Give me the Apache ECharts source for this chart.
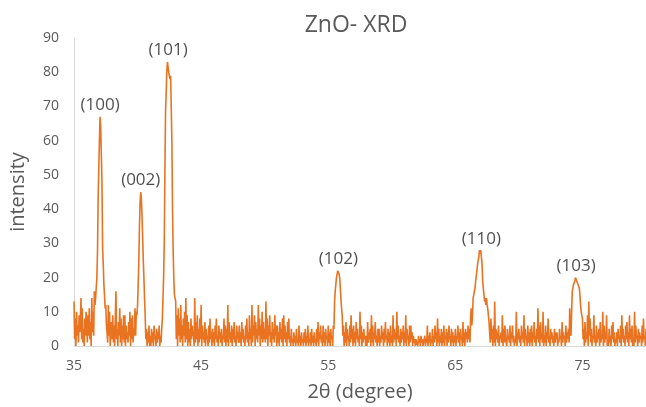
<!DOCTYPE html>
<html>
<head>
<meta charset="utf-8">
<title>ZnO- XRD</title>
<script src="https://cdn.jsdelivr.net/npm/echarts@6/dist/echarts.min.js"></script>
<style>
html, body { margin: 0; padding: 0; background: #fff; }
#xrd-chart { width: 646px; height: 407px; }
</style>
</head>
<body>
<div id="xrd-chart"></div>
<script>
// scan: 35.00 to 80.00 deg, 0.05 deg per step (one row per degree)
var angleStart = 35;
var angleStep = 0.05;
var intensity = [
	13, 2, 8, 0, 10, 3, 6, 1, 9, 4, 7, 14, 2, 11, 1, 5, 0, 8, 3, 10,
	6, 1, 9, 3, 11, 2, 7, 0, 14, 4, 10, 3, 16, 12, 14, 17, 20, 28, 43, 52,
	60, 67, 64, 56, 48, 29, 24, 18, 15, 11, 12, 6, 4, 1, 12, 3, 10, 0, 7, 2,
	3, 9, 1, 6, 0, 8, 16, 2, 5, 0, 7, 3, 11, 1, 8, 0, 6, 2, 9, 1,
	9, 0, 6, 2, 4, 1, 7, 3, 10, 0, 8, 2, 9, 1, 5, 3, 11, 3, 10, 9,
	12, 18, 25, 35, 42, 45, 43, 38, 32, 25, 20, 14, 9, 2, 5, 0, 4, 1, 6, 0,
	3, 0, 5, 1, 4, 0, 6, 2, 3, 0, 5, 1, 4, 2, 6, 0, 3, 1, 5, 8,
	14, 20, 30, 50, 68, 74, 80, 83, 83, 80, 80, 78, 79, 70, 60, 40, 28, 20, 15, 14,
	13, 2, 9, 0, 11, 3, 8, 1, 12, 2, 6, 0, 8, 3, 10, 1, 14, 2, 9, 0,
	7, 1, 5, 0, 8, 2, 6, 3, 4, 0, 14, 1, 7, 2, 9, 0, 5, 1, 8, 2,
	12, 0, 6, 2, 4, 1, 7, 0, 5, 2, 3, 0, 6, 1, 8, 2, 4, 0, 5, 1,
	4, 0, 6, 2, 8, 1, 3, 0, 6, 2, 4, 1, 5, 0, 3, 2, 8, 1, 6, 0,
	5, 1, 12, 0, 7, 2, 4, 1, 6, 0, 5, 2, 7, 1, 3, 0, 6, 2, 4, 1,
	6, 1, 4, 0, 7, 2, 5, 1, 3, 0, 6, 2, 8, 1, 4, 0, 9, 2, 5, 0,
	12, 1, 6, 3, 9, 0, 7, 2, 5, 1, 12, 3, 8, 0, 6, 2, 10, 1, 7, 2,
	5, 1, 13, 2, 8, 0, 6, 3, 9, 1, 4, 0, 7, 2, 5, 1, 9, 3, 6, 0,
	6, 1, 4, 0, 7, 2, 5, 1, 8, 0, 9, 2, 6, 1, 4, 0, 7, 2, 8, 1,
	3, 0, 5, 1, 2, 0, 4, 1, 3, 0, 5, 1, 2, 0, 6, 1, 3, 0, 4, 1,
	2, 0, 4, 1, 5, 0, 3, 1, 6, 0, 2, 1, 4, 0, 5, 1, 3, 0, 4, 1,
	2, 0, 5, 1, 7, 0, 4, 2, 6, 1, 3, 0, 6, 1, 4, 0, 5, 2, 3, 0,
	6, 1, 4, 0, 5, 2, 3, 0, 6, 5, 13, 16, 18, 20, 21, 22, 22, 21, 20, 17,
	14, 11, 9, 3, 6, 0, 4, 1, 7, 0, 5, 2, 3, 0, 6, 1, 9, 2, 5, 0,
	6, 1, 4, 0, 7, 2, 5, 1, 3, 0, 10, 2, 6, 0, 4, 1, 5, 2, 3, 0,
	3, 0, 7, 1, 4, 2, 5, 0, 9, 1, 6, 0, 4, 2, 7, 1, 3, 0, 5, 1,
	5, 0, 3, 1, 6, 2, 4, 0, 5, 1, 7, 2, 3, 0, 5, 1, 4, 0, 6, 1,
	3, 0, 9, 1, 5, 2, 4, 0, 10, 2, 6, 1, 3, 0, 5, 1, 4, 2, 6, 0,
	4, 1, 9, 0, 5, 2, 3, 0, 6, 1, 6, 2, 4, 0, 3, 1, 2, 0, 2, 1,
	1, 0, 3, 1, 2, 0, 3, 1, 2, 0, 1, 2, 3, 0, 2, 1, 6, 0, 3, 1,
	4, 0, 2, 1, 5, 0, 3, 1, 6, 2, 4, 0, 8, 1, 5, 0, 3, 1, 5, 0,
	4, 1, 6, 0, 3, 2, 5, 0, 4, 1, 6, 2, 3, 0, 5, 1, 4, 0, 3, 1,
	5, 0, 3, 2, 6, 1, 4, 0, 5, 2, 3, 0, 7, 1, 4, 0, 5, 2, 4, 1,
	6, 2, 5, 1, 8, 11, 6, 9, 14, 15, 16, 17, 19, 19, 22, 24, 25, 26, 28, 27,
	28, 28, 24, 19, 17, 15, 13, 14, 12, 14, 12, 11, 11, 7, 4, 1, 8, 2, 5, 0,
	6, 1, 13, 0, 5, 2, 4, 1, 6, 0, 3, 2, 4, 1, 9, 0, 5, 1, 6, 2,
	1, 0, 5, 2, 3, 1, 6, 0, 4, 2, 6, 1, 3, 0, 2, 1, 10, 0, 4, 2,
	5, 1, 3, 0, 6, 2, 4, 1, 9, 0, 5, 2, 3, 0, 6, 1, 4, 0, 5, 1,
	6, 0, 4, 2, 7, 1, 3, 0, 5, 2, 11, 1, 6, 0, 7, 2, 4, 1, 10, 0,
	3, 1, 6, 0, 4, 2, 8, 1, 3, 0, 5, 2, 4, 1, 3, 0, 5, 1, 4, 2,
	4, 0, 2, 1, 5, 2, 3, 0, 7, 1, 4, 2, 3, 0, 6, 1, 4, 2, 5, 1,
	11, 4, 3, 10, 16, 17, 18, 18, 19, 20, 20, 19, 19, 19, 19, 17, 15, 12, 10, 9,
	8, 2, 5, 0, 7, 1, 4, 2, 9, 0, 13, 3, 8, 1, 5, 0, 3, 2, 9, 1,
	3, 0, 6, 1, 4, 2, 5, 0, 7, 1, 3, 2, 10, 0, 6, 1, 4, 2, 9, 0,
	2, 0, 5, 1, 3, 0, 6, 2, 7, 1, 4, 0, 2, 1, 4, 0, 5, 2, 3, 1,
	6, 0, 9, 2, 5, 1, 3, 0, 6, 2, 7, 1, 4, 0, 9, 2, 5, 1, 6, 0,
	2, 0, 10, 1, 6, 2, 3, 0, 5, 1, 4, 2, 3, 0, 6, 1, 8, 2, 3, 0,
	5
];

// reflections
var peakNames = [ '(100)', '(002)', '(101)', '(102)', '(110)', '(103)' ];
var peakAngles = [ 37.05, 40.25, 42.4, 55.8, 67.05, 74.5 ];
var peakHeights = [ 67, 45, 83, 22, 28, 20 ];

var xTicks = [ 35, 45, 55, 65, 75 ];

var scan = [];
for ( var i = 0; i < intensity.length; i++) {
	scan.push([ +(angleStart + i * angleStep).toFixed(2), intensity[i] ]);
}
var peaks = [];
for ( var j = 0; j < peakNames.length; j++) {
	peaks.push({
		value : [ peakAngles[j], peakHeights[j] ],
		name : peakNames[j]
	});
}

var font = '"Open Sans", "DejaVu Sans", sans-serif';
var chart = echarts.init(document.getElementById('xrd-chart'));
var option = {
	animation : false,
	title : {
		text : 'ZnO- XRD',
		left : 351,
		top : 9,
		textAlign : 'center',
		textStyle : {
			color : '#595959',
			fontFamily : font,
			fontSize : 23,
			fontWeight : 'normal'
		}
	},
	grid : {
		left : 73,
		right : 0,
		top : 38,
		bottom : 59
	},
	xAxis : {
		type : 'value',
		min : xTicks[0],
		max : 80,
		interval : xTicks[1] - xTicks[0],
		name : '2θ (degree)',
		nameLocation : 'middle',
		nameGap : 36,
		nameTextStyle : {
			color : '#595959',
			fontFamily : font,
			fontSize : 20
		},
		axisLine : {
			lineStyle : { color : '#d9d9d9', width : 1 }
		},
		axisTick : { show : false },
		splitLine : { show : false },
		axisLabel : {
			color : '#595959',
			fontFamily : font,
			fontSize : 14,
			margin : 13,
			showMaxLabel : false
		}
	},
	yAxis : {
		type : 'value',
		min : 0,
		max : 90,
		interval : 10,
		name : 'intensity',
		nameLocation : 'middle',
		nameGap : 46,
		nameTextStyle : {
			color : '#595959',
			fontFamily : font,
			fontSize : 20
		},
		axisLine : {
			show : true,
			lineStyle : { color : '#d9d9d9', width : 1 }
		},
		axisTick : { show : false },
		splitLine : { show : false },
		axisLabel : {
			color : '#595959',
			fontFamily : font,
			fontSize : 14,
			margin : 15
		}
	},
	series : [ {
		name : 'ZnO',
		type : 'line',
		data : scan,
		showSymbol : false,
		sampling : null,
		lineStyle : { color : '#E97320', width : 1.6 },
		itemStyle : { color : '#E97320' },
		silent : true
	}, {
		name : 'peaks',
		type : 'scatter',
		data : peaks,
		symbolSize : 0,
		silent : true,
		z : 5,
		label : {
			show : true,
			position : 'top',
			distance : 3,
			formatter : function(p) {
				return p.name;
			},
			color : '#1f1f1f',
			fontFamily : font,
			fontSize : 17
		}
	} ]
};
chart.setOption(option);
window.onresize = chart.resize;
</script>
</body>
</html>
